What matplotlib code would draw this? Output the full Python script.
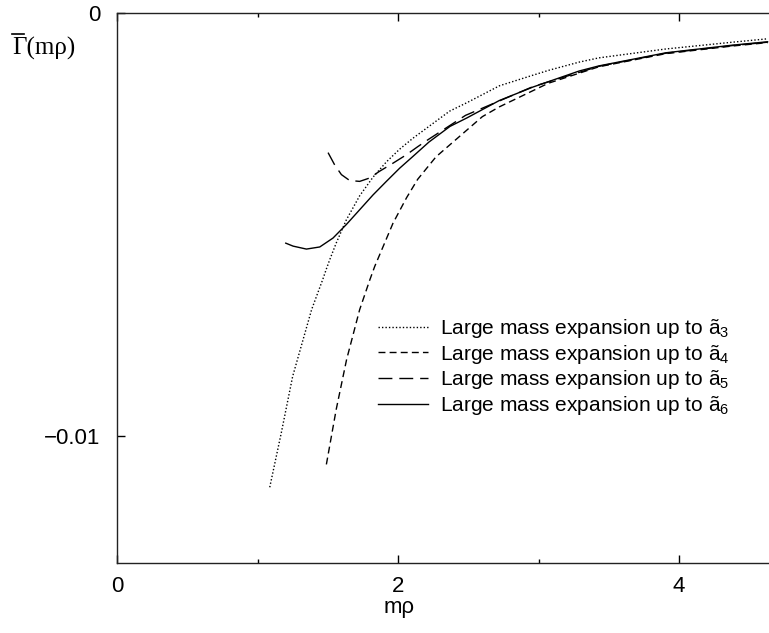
import matplotlib
matplotlib.use("Agg")
from matplotlib import pyplot as plt
from matplotlib.lines import Line2D
from matplotlib.ticker import FixedLocator

plt.rcParams['font.family'] = ['Liberation Sans', 'DejaVu Sans']
plt.rcParams['mathtext.fontset'] = 'custom'
plt.rcParams['mathtext.rm'] = 'Liberation Sans'
plt.rcParams['mathtext.it'] = 'Liberation Sans'

# large mass expansion curves
x_a3 = [1.087, 1.17, 1.25, 1.385, 1.464, 1.49, 1.514, 1.561, 1.632, 1.727, 1.822, 1.917, 2.011,
        2.106, 2.367, 2.49, 2.722, 2.96, 3.077, 3.29, 3.43, 3.907, 4.38, 4.63]
y_a3 = [-0.01121, -0.00991, -0.00859, -0.00701, -0.00630, -0.00605, -0.00583, -0.00543, -0.00489,
        -0.00432, -0.00388, -0.00352, -0.00322, -0.00296, -0.00232, -0.00212, -0.00172, -0.00147,
        -0.00135, -0.00116, -0.00106, -0.00085, -0.00069, -0.00061]

x_a4 = [1.49, 1.56, 1.634, 1.727, 1.80, 1.834, 1.964, 2.06, 2.14, 2.27, 2.60, 2.72, 3.07, 3.43,
        3.907, 4.38, 4.63]
y_a4 = [-0.01067, -0.00937, -0.00819, -0.00701, -0.00630, -0.00599, -0.00497, -0.00437, -0.00393,
        -0.00340, -0.00245, -0.00222, -0.00166, -0.00127, -0.00096, -0.00078, -0.00070]

x_a5 = [1.502, 1.549, 1.597, 1.656, 1.727, 1.798, 1.869, 1.964, 2.06, 2.14, 2.22, 2.48, 2.96,
        3.43, 3.907, 4.38, 4.63]
y_a5 = [-0.00330, -0.00359, -0.00382, -0.00396, -0.00398, -0.00390, -0.00374, -0.00355, -0.00335,
        -0.00316, -0.00298, -0.00242, -0.00174, -0.00126, -0.00095, -0.00077, -0.00069]

x_a6 = [1.201, 1.253, 1.348, 1.443, 1.537, 1.632, 1.727, 1.822, 1.917, 2.011, 2.106, 2.22, 2.37,
        2.49, 2.72, 2.96, 3.29, 3.43, 3.907, 4.38, 4.63]
y_a6 = [-0.00544, -0.00551, -0.00558, -0.00553, -0.00532, -0.00500, -0.00465, -0.00430, -0.00398,
        -0.00367, -0.00339, -0.00305, -0.00268, -0.00248, -0.00207, -0.00175, -0.00137, -0.00125,
        -0.00094, -0.00076, -0.00068]

labels = ['Large mass expansion up to ã$_3$',
          'Large mass expansion up to ã$_4$',
          'Large mass expansion up to ã$_5$',
          'Large mass expansion up to ã$_6$']

x_major = [0, 2, 4]
x_minor = [1, 3]
y_major = [-0.01, 0]

fig = plt.figure(figsize=(7.69, 6.33), dpi=100)
ax = fig.add_axes([117 / 769, 1 - 563 / 633, 1 - 117 / 769, (563 - 13) / 633])

ax.plot(x_a3, y_a3, color='black', lw=1.0, dashes=(1, 1.5), label=labels[0])
ax.plot(x_a4, y_a4, color='black', lw=1.0, dashes=(5, 3), label=labels[1])
ax.plot(x_a5, y_a5, color='black', lw=1.0, dashes=(10, 5), label=labels[2])
ax.plot(x_a6, y_a6, color='black', lw=1.0, label=labels[3])

ax.set_xlim(0, 4.64)
ax.set_ylim(-0.013, 0)

ax.xaxis.set_major_locator(FixedLocator(x_major))
ax.xaxis.set_minor_locator(FixedLocator(x_minor))
ax.yaxis.set_major_locator(FixedLocator(y_major))
ax.set_xticklabels(['0', '2', '4'])
ax.set_yticklabels(['\u22120.01', '0'])

ax.tick_params(axis='x', which='major', direction='in', length=6, width=1, top=True,
               labelsize=16, pad=9)
ax.tick_params(axis='x', which='minor', direction='in', length=3, width=1, top=True)
ax.tick_params(axis='y', which='major', direction='in', length=6, width=1,
               labelsize=16, pad=12)

ax.spines['right'].set_visible(False)
for s in ['left', 'top', 'bottom']:
    ax.spines[s].set_linewidth(1.0)
    ax.spines[s].set_color('#222222')

fig.text(399 / 769, 1 - 607 / 633, 'mρ', ha='center', va='center', fontsize=16)
# y label: Gamma with a bar on top
fig.text(12 / 769, 1 - 55 / 633, 'Γ(mρ)', ha='left', va='baseline', fontsize=18,
         family=['Liberation Serif', 'DejaVu Serif'])
fig.add_artist(Line2D([12 / 769, 24 / 769], [1 - 34 / 633, 1 - 34 / 633],
                      transform=fig.transFigure, color='black', lw=1.2))

ax.legend(loc='upper left', bbox_to_anchor=(378 / 769, 1 - 317 / 633),
          bbox_transform=fig.transFigure, frameon=False, fontsize=15,
          handlelength=2.4, handletextpad=0.6, labelspacing=0.13,
          borderpad=0, borderaxespad=0)

fig.savefig('out.png', dpi=100)
